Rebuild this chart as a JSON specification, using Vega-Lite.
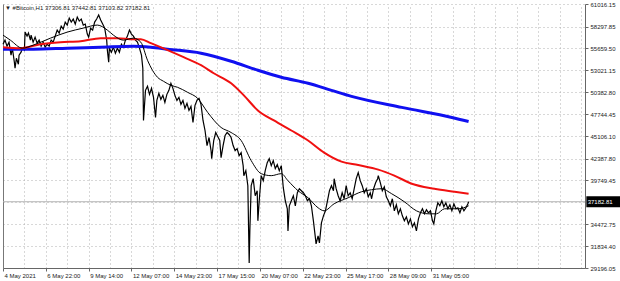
{
  "$schema": "https://vega.github.io/schema/vega-lite/v6.json",
  "width": 582,
  "height": 264,
  "autosize": "none",
  "padding": {"left": 3, "top": 4, "right": 35, "bottom": 13},
  "background": "white",
  "config": {
    "view": {"stroke": null},
    "font": "Liberation Sans",
    "axis": {"labelFont": "Liberation Sans", "labelFontSize": 6, "labelColor": "#222", "title": null, "labelOverlap": false, "labelFlush": false, "labelBound": false}
  },
  "title": {"text": "▼ #Bitcoin,H1  37306.81 37442.81 37103.82 37182.81", "anchor": "start", "frame": "group", "fontSize": 6, "font": "Liberation Sans", "fontWeight": "normal", "color": "#222", "baseline": "top", "offset": -10, "dx": 2},
  "datasets": {
    "price": [{"b":0,"p":56176},{"b":3,"p":56660},{"b":6,"p":55934},{"b":9,"p":56418},{"b":12,"p":54845},{"b":14,"p":55692},{"b":17,"p":53998},{"b":18,"p":53272},{"b":20,"p":54482},{"b":23,"p":53756},{"b":24,"p":54845},{"b":27,"p":55208},{"b":29,"p":55692},{"b":32,"p":55450},{"b":33,"p":57628},{"b":36,"p":57144},{"b":38,"p":57507},{"b":41,"p":56660},{"b":42,"p":57265},{"b":45,"p":56418},{"b":48,"p":57023},{"b":51,"p":56297},{"b":54,"p":56660},{"b":57,"p":55934},{"b":60,"p":56418},{"b":63,"p":55813},{"b":66,"p":56176},{"b":69,"p":55934},{"b":72,"p":56660},{"b":75,"p":56418},{"b":78,"p":57144},{"b":81,"p":57870},{"b":84,"p":57507},{"b":87,"p":58354},{"b":90,"p":57991},{"b":93,"p":58838},{"b":96,"p":58475},{"b":99,"p":59322},{"b":102,"p":58838},{"b":105,"p":59201},{"b":108,"p":58596},{"b":111,"p":59443},{"b":114,"p":58959},{"b":117,"p":59201},{"b":120,"p":58475},{"b":123,"p":58596},{"b":126,"p":57386},{"b":128,"p":57023},{"b":131,"p":58112},{"b":134,"p":57870},{"b":137,"p":58838},{"b":140,"p":59201},{"b":143,"p":59685},{"b":146,"p":59080},{"b":149,"p":58596},{"b":152,"p":58112},{"b":155,"p":56660},{"b":156,"p":55450},{"b":158,"p":53998},{"b":159,"p":55692},{"b":162,"p":55208},{"b":165,"p":55813},{"b":168,"p":55087},{"b":171,"p":55692},{"b":174,"p":55208},{"b":177,"p":56176},{"b":180,"p":55813},{"b":183,"p":56660},{"b":186,"p":57144},{"b":189,"p":57870},{"b":192,"p":57386},{"b":195,"p":57144},{"b":198,"p":56660},{"b":201,"p":56418},{"b":204,"p":55692},{"b":207,"p":54845},{"b":209,"p":53272},{"b":210,"p":46980},{"b":212,"p":49400},{"b":213,"p":50610},{"b":216,"p":51094},{"b":219,"p":50126},{"b":222,"p":50852},{"b":225,"p":49763},{"b":228,"p":47343},{"b":230,"p":49400},{"b":233,"p":50247},{"b":236,"p":49521},{"b":239,"p":50005},{"b":242,"p":49158},{"b":245,"p":50126},{"b":248,"p":50610},{"b":251,"p":51457},{"b":254,"p":50852},{"b":257,"p":50005},{"b":260,"p":49400},{"b":263,"p":49763},{"b":266,"p":48916},{"b":269,"p":49400},{"b":272,"p":48432},{"b":275,"p":49037},{"b":278,"p":48190},{"b":281,"p":48674},{"b":284,"p":46738},{"b":287,"p":48795},{"b":290,"p":49400},{"b":293,"p":49642},{"b":296,"p":48916},{"b":299,"p":46980},{"b":302,"p":45770},{"b":305,"p":43955},{"b":308,"p":44923},{"b":311,"p":43350},{"b":312,"p":42382},{"b":315,"p":44560},{"b":318,"p":45528},{"b":321,"p":45044},{"b":324,"p":44560},{"b":326,"p":42503},{"b":329,"p":43955},{"b":332,"p":45165},{"b":335,"p":45528},{"b":338,"p":45286},{"b":341,"p":44923},{"b":344,"p":43955},{"b":347,"p":43350},{"b":350,"p":43592},{"b":353,"p":42745},{"b":356,"p":43108},{"b":359,"p":41535},{"b":360,"p":40325},{"b":363,"p":40930},{"b":366,"p":39115},{"b":368,"p":29798},{"b":369,"p":33670},{"b":371,"p":39115},{"b":374,"p":39962},{"b":377,"p":37905},{"b":380,"p":38510},{"b":381,"p":34880},{"b":383,"p":37300},{"b":386,"p":40325},{"b":389,"p":39720},{"b":392,"p":40930},{"b":395,"p":41898},{"b":398,"p":42382},{"b":401,"p":41535},{"b":404,"p":42140},{"b":407,"p":41172},{"b":410,"p":41656},{"b":413,"p":40930},{"b":416,"p":41535},{"b":419,"p":38873},{"b":422,"p":37300},{"b":425,"p":36332},{"b":426,"p":33670},{"b":428,"p":36695},{"b":431,"p":37300},{"b":434,"p":37905},{"b":437,"p":36695},{"b":440,"p":38268},{"b":443,"p":38752},{"b":446,"p":38510},{"b":449,"p":38268},{"b":452,"p":37905},{"b":455,"p":37300},{"b":458,"p":37542},{"b":461,"p":36695},{"b":464,"p":34880},{"b":467,"p":32823},{"b":468,"p":32097},{"b":471,"p":33065},{"b":473,"p":32218},{"b":476,"p":34638},{"b":479,"p":35485},{"b":482,"p":36090},{"b":485,"p":37300},{"b":488,"p":38510},{"b":491,"p":39115},{"b":494,"p":38510},{"b":495,"p":39962},{"b":498,"p":38752},{"b":501,"p":37905},{"b":504,"p":37300},{"b":507,"p":38268},{"b":510,"p":37542},{"b":513,"p":39115},{"b":516,"p":37905},{"b":519,"p":38268},{"b":522,"p":37542},{"b":525,"p":38752},{"b":528,"p":39962},{"b":531,"p":40688},{"b":534,"p":39720},{"b":537,"p":39115},{"b":540,"p":38268},{"b":543,"p":38752},{"b":546,"p":37784},{"b":549,"p":38268},{"b":551,"p":37542},{"b":554,"p":38752},{"b":557,"p":39478},{"b":560,"p":39962},{"b":561,"p":40325},{"b":564,"p":39478},{"b":567,"p":38510},{"b":570,"p":38994},{"b":573,"p":37784},{"b":576,"p":37300},{"b":579,"p":36695},{"b":582,"p":37542},{"b":585,"p":36090},{"b":588,"p":36816},{"b":591,"p":35727},{"b":594,"p":36332},{"b":597,"p":35485},{"b":600,"p":34880},{"b":603,"p":35364},{"b":606,"p":34517},{"b":609,"p":35122},{"b":612,"p":34154},{"b":615,"p":34638},{"b":618,"p":33670},{"b":621,"p":35122},{"b":624,"p":35848},{"b":627,"p":36332},{"b":630,"p":35727},{"b":633,"p":36211},{"b":636,"p":35848},{"b":639,"p":36090},{"b":642,"p":34880},{"b":644,"p":34517},{"b":647,"p":36090},{"b":650,"p":37058},{"b":653,"p":36695},{"b":656,"p":37300},{"b":659,"p":36574},{"b":662,"p":37058},{"b":665,"p":36332},{"b":668,"p":36816},{"b":671,"p":36090},{"b":674,"p":36937},{"b":677,"p":36332},{"b":680,"p":36453},{"b":683,"p":35848},{"b":686,"p":36574},{"b":689,"p":36090},{"b":692,"p":36453},{"b":695,"p":36937},{"b":696,"p":37183}],
    "blackma": [{"b":0,"v":57265},{"b":11,"v":56660},{"b":29,"v":55692},{"b":45,"v":56055},{"b":71,"v":56902},{"b":96,"v":57628},{"b":120,"v":58112},{"b":141,"v":58475},{"b":156,"v":57870},{"b":165,"v":57265},{"b":180,"v":56660},{"b":195,"v":56902},{"b":206,"v":56418},{"b":216,"v":54240},{"b":231,"v":52183},{"b":240,"v":51699},{"b":251,"v":51215},{"b":261,"v":50973},{"b":276,"v":50368},{"b":291,"v":49642},{"b":306,"v":47948},{"b":326,"v":46133},{"b":341,"v":45528},{"b":356,"v":44560},{"b":371,"v":42140},{"b":386,"v":40567},{"b":401,"v":40325},{"b":416,"v":40567},{"b":426,"v":39720},{"b":441,"v":38510},{"b":456,"v":37663},{"b":471,"v":36453},{"b":480,"v":36090},{"b":495,"v":36937},{"b":516,"v":37663},{"b":536,"v":38389},{"b":551,"v":38631},{"b":566,"v":38752},{"b":581,"v":38147},{"b":600,"v":37179},{"b":618,"v":36090},{"b":636,"v":35727},{"b":648,"v":35727},{"b":660,"v":36332},{"b":681,"v":36332},{"b":696,"v":36695}],
    "redma": [{"b":0,"v":55813},{"b":26,"v":55692},{"b":56,"v":56176},{"b":86,"v":56418},{"b":116,"v":56539},{"b":146,"v":56902},{"b":171,"v":56902},{"b":195,"v":56781},{"b":206,"v":56781},{"b":221,"v":56297},{"b":246,"v":55450},{"b":270,"v":54603},{"b":296,"v":53635},{"b":315,"v":52667},{"b":341,"v":51457},{"b":360,"v":50005},{"b":381,"v":48190},{"b":405,"v":46980},{"b":431,"v":45770},{"b":456,"v":44560},{"b":480,"v":43108},{"b":506,"v":42020},{"b":531,"v":41600},{"b":561,"v":41050},{"b":585,"v":40330},{"b":611,"v":39357},{"b":645,"v":38752},{"b":675,"v":38389},{"b":696,"v":38147}],
    "bluema": [{"b":0,"v":55571},{"b":45,"v":55571},{"b":96,"v":55692},{"b":146,"v":55813},{"b":195,"v":55934},{"b":221,"v":55813},{"b":246,"v":55571},{"b":296,"v":55087},{"b":341,"v":54119},{"b":381,"v":53030},{"b":416,"v":52183},{"b":456,"v":51457},{"b":491,"v":50610},{"b":521,"v":49884},{"b":596,"v":48553},{"b":671,"v":47343},{"b":696,"v":46859}],
    "cur": [{"p":37182.81,"t":"37182.81"}]
  },
  "resolve": {"axis": {"x": "independent", "y": "independent"}},
  "layer": [
    {
      "data": {"name": "bluema"},
      "mark": {"type": "line", "opacity": 0},
      "encoding": {
        "x": {"field": "b", "type": "quantitative", "scale": {"domain": [0, 870], "nice": false, "zero": false},
          "axis": {"orient": "top", "values": [0,32,64,96,128,160,192,224,256,288,320,352,384,416,448,480,512,544,576,608,640,672,704,736,768,800,832,864], "labels": false, "ticks": false, "domain": false, "grid": true, "gridDash": [1,3], "gridColor": "#b0b0b0", "gridWidth": 1}},
        "y": {"field": "v", "type": "quantitative", "scale": {"domain": [29196.05, 61016.15], "nice": false, "zero": false},
          "axis": {"orient": "left", "values": [61016.15,58297.85,55659.5,53021.15,50382.8,47744.45,45106.1,42387.8,39749.45,37111.1,34472.75,31834.4,29196.05], "labels": false, "ticks": false, "domain": true, "domainColor": "#777", "grid": true, "gridDash": [1,3], "gridColor": "#b0b0b0", "gridWidth": 1}}
      }
    },
    {
      "data": {"name": "cur"},
      "mark": {"type": "rule", "color": "#b4b4b4", "strokeWidth": 1},
      "encoding": {"y": {"field": "p", "type": "quantitative", "axis": null}}
    },
    {
      "data": {"name": "price"},
      "mark": {"type": "line", "color": "#000000", "strokeWidth": 1.2},
      "encoding": {
        "x": {"field": "b", "type": "quantitative",
          "axis": {"orient": "bottom", "values": [0,64,128,192,256,320,384,448,512,576,640], "labelExpr": "['4 May 2021','6 May 22:00','9 May 14:00','12 May 07:00','14 May 23:00','17 May 15:00','20 May 07:00','22 May 23:00','25 May 17:00','28 May 09:00','31 May 05:00'][round(datum.value/64)]", "labelAlign": "left", "labelBaseline": "top", "labelPadding": 1, "labelOffset": 1, "tickSize": 3, "tickColor": "#666", "domainColor": "#666", "grid": false}},
        "y": {"field": "p", "type": "quantitative",
          "axis": {"orient": "right", "values": [61016.15,58297.85,55659.5,53021.15,50382.8,47744.45,45106.1,42387.8,39749.45,34472.75,31834.4,29196.05], "labelExpr": "format(datum.value, '.2f')", "labelBaseline": "middle", "labelPadding": 2, "tickSize": 3, "tickColor": "#666", "domainColor": "#666", "grid": false}}
      }
    },
    {
      "data": {"name": "bluema"},
      "mark": {"type": "line", "color": "#1010f0", "strokeWidth": 3, "interpolate": "monotone"},
      "encoding": {"x": {"field": "b", "type": "quantitative", "axis": null}, "y": {"field": "v", "type": "quantitative", "axis": null}}
    },
    {
      "data": {"name": "redma"},
      "mark": {"type": "line", "color": "#f01010", "strokeWidth": 2, "interpolate": "monotone"},
      "encoding": {"x": {"field": "b", "type": "quantitative", "axis": null}, "y": {"field": "v", "type": "quantitative", "axis": null}}
    },
    {
      "data": {"name": "blackma"},
      "mark": {"type": "line", "color": "#000000", "strokeWidth": 1, "interpolate": "monotone"},
      "encoding": {"x": {"field": "b", "type": "quantitative", "axis": null}, "y": {"field": "v", "type": "quantitative", "axis": null}}
    },
    {
      "data": {"name": "cur"},
      "mark": {"type": "rect", "color": "#000000"},
      "encoding": {"x": {"datum": 872, "type": "quantitative", "axis": null}, "x2": {"datum": 926}, "y": {"datum": 36520, "type": "quantitative", "axis": null}, "y2": {"datum": 37846}}
    },
    {
      "data": {"name": "cur"},
      "mark": {"type": "text", "color": "#ffffff", "fontSize": 6, "font": "Liberation Sans", "align": "left", "baseline": "middle"},
      "encoding": {"x": {"datum": 874, "type": "quantitative", "axis": null}, "y": {"field": "p", "type": "quantitative", "axis": null}, "text": {"field": "t"}}
    }
  ]
}
